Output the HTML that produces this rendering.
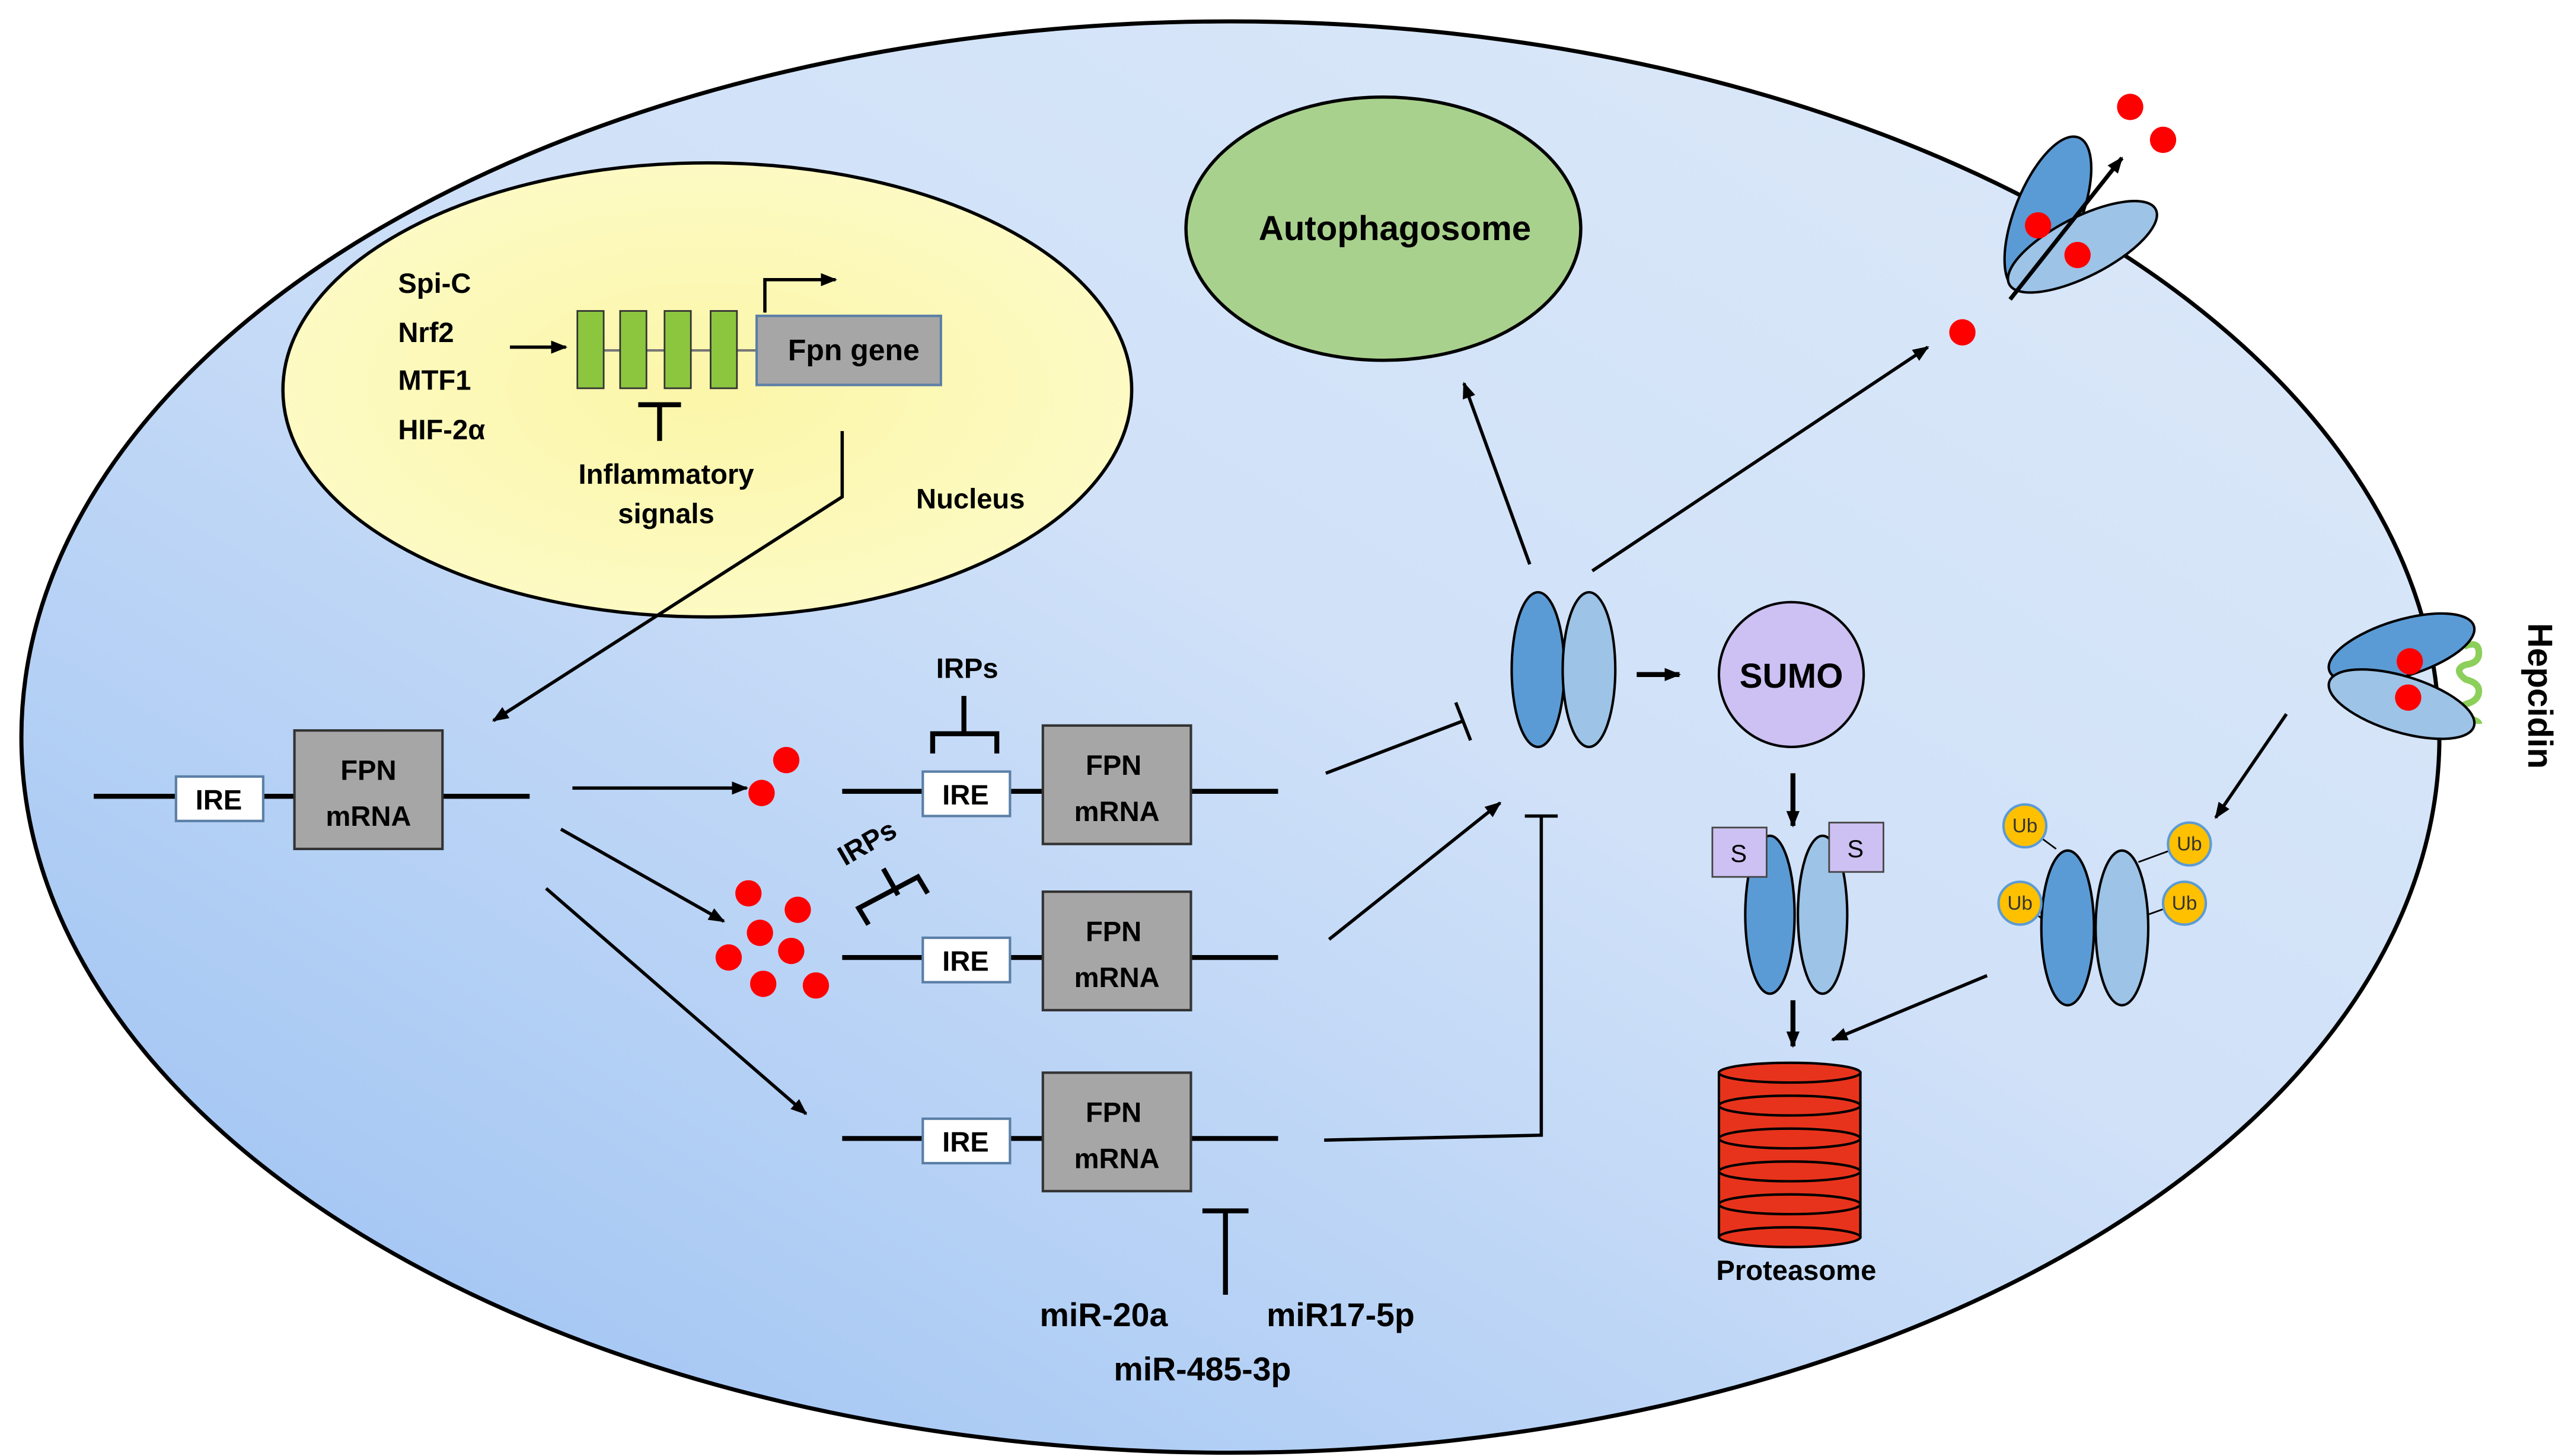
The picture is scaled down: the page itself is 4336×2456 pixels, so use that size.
<!DOCTYPE html>
<html><head><meta charset="utf-8"><style>html,body{margin:0;padding:0;background:#fff}svg{display:block}</style></head>
<body>
<svg xmlns="http://www.w3.org/2000/svg" width="4336" height="2456" viewBox="0 0 1563 885" preserveAspectRatio="none" font-family="Liberation Sans, sans-serif" font-weight="bold">
<defs>
<linearGradient id="cell" x1="0" y1="1" x2="1" y2="0">
<stop offset="0" stop-color="#98bff2"/><stop offset="0.55" stop-color="#d0e1f8"/><stop offset="1" stop-color="#dde9f9"/>
</linearGradient>
<radialGradient id="nuc" cx="0.5" cy="0.5" r="0.6">
<stop offset="0" stop-color="#fbf6a8"/><stop offset="1" stop-color="#fdfbc8"/>
</radialGradient>
<marker id="ah" markerWidth="10" markerHeight="8" refX="9" refY="4" orient="auto" markerUnits="userSpaceOnUse"><path d="M0,0 L10,4 L0,8 Z" fill="#000"/></marker>
</defs>
<ellipse cx="748" cy="448" rx="735" ry="435" fill="url(#cell)" stroke="#000" stroke-width="2.5"/>
<!-- nucleus -->
<ellipse cx="430" cy="237" rx="258" ry="138" fill="url(#nuc)" stroke="#000" stroke-width="2"/>
<g font-size="17" fill="#000">
<text x="242" y="178">Spi-C</text><text x="242" y="208">Nrf2</text><text x="242" y="237">MTF1</text><text x="242" y="267">HIF-2α</text>
<text x="405" y="294" text-anchor="middle">Inflammatory</text><text x="405" y="318" text-anchor="middle">signals</text>
<text x="590" y="309" text-anchor="middle">Nucleus</text>
</g>
<line x1="310" y1="211" x2="344" y2="211" stroke="#000" stroke-width="2" marker-end="url(#ah)"/>
<line x1="352" y1="213" x2="460" y2="213" stroke="#777" stroke-width="1.5"/>
<g fill="#8cc63f" stroke="#333" stroke-width="1"><rect x="351" y="189" width="16" height="47"/><rect x="377" y="189" width="16" height="47"/><rect x="404" y="189" width="16" height="47"/><rect x="432" y="189" width="16" height="47"/></g>
<rect x="460" y="192" width="112" height="42" fill="#a6a6a6" stroke="#5b7fa6" stroke-width="1.5"/>
<text x="519" y="219" text-anchor="middle" font-size="18">Fpn gene</text>
<path d="M465 190 V170 H508" fill="none" stroke="#000" stroke-width="2" marker-end="url(#ah)"/>
<line x1="401" y1="268" x2="401" y2="246" stroke="#000" stroke-width="3"/><line x1="388" y1="246" x2="414" y2="246" stroke="#000" stroke-width="3"/>
<path d="M512 262 V302 L300 438" fill="none" stroke="#000" stroke-width="2" marker-end="url(#ah)"/>
<!-- autophagosome -->
<ellipse cx="841" cy="139" rx="120" ry="80" fill="#a9d18e" stroke="#000" stroke-width="2"/>
<text x="848" y="146" text-anchor="middle" font-size="21">Autophagosome</text>
<!-- mRNA left -->
<line x1="57" y1="484" x2="322" y2="484" stroke="#000" stroke-width="3"/>
<rect x="107" y="472" width="53" height="27" fill="#fff" stroke="#5b7fa6" stroke-width="1.5"/><text x="133" y="492" text-anchor="middle" font-size="17">IRE</text>
<rect x="179" y="444" width="90" height="72" fill="#a6a6a6" stroke="#333" stroke-width="1.5"/>
<text x="224" y="474" text-anchor="middle" font-size="17">FPN</text><text x="224" y="502" text-anchor="middle" font-size="17">mRNA</text>
<!-- three mRNAs -->
<g id="m1">
<line x1="512" y1="481" x2="777" y2="481" stroke="#000" stroke-width="3"/>
<rect x="561" y="469" width="53" height="27" fill="#fff" stroke="#5b7fa6" stroke-width="1.5"/><text x="587" y="489" text-anchor="middle" font-size="17">IRE</text>
<rect x="634" y="441" width="90" height="72" fill="#a6a6a6" stroke="#333" stroke-width="1.5"/>
<text x="677" y="471" text-anchor="middle" font-size="17">FPN</text><text x="679" y="499" text-anchor="middle" font-size="17">mRNA</text>
</g>
<use href="#m1" y="101"/>
<use href="#m1" y="211"/>
<!-- IRPs -->
<text x="588" y="412" text-anchor="middle" font-size="17">IRPs</text>
<path d="M586 423 V446 M567 458 V446 H606 V458" fill="none" stroke="#000" stroke-width="3"/>
<text x="527" y="518" text-anchor="middle" font-size="17" transform="rotate(-30 527 512)">IRPs</text>
<path d="M537 528 L546 544 M528 562 L522 552 L558 533 L564 543" fill="none" stroke="#000" stroke-width="3"/>
<!-- arrows from left mRNA -->
<line x1="348" y1="479" x2="454" y2="479" stroke="#000" stroke-width="2" marker-end="url(#ah)"/>
<line x1="341" y1="504" x2="440" y2="560" stroke="#000" stroke-width="2" marker-end="url(#ah)"/>
<line x1="332" y1="540" x2="490" y2="677" stroke="#000" stroke-width="2" marker-end="url(#ah)"/>
<g fill="#f00">
<circle cx="478" cy="462" r="8"/><circle cx="463" cy="482" r="8"/>
<circle cx="455" cy="543" r="8"/><circle cx="485" cy="553" r="8"/><circle cx="462" cy="567" r="8"/><circle cx="481" cy="578" r="8"/><circle cx="443" cy="582" r="8"/><circle cx="464" cy="598" r="8"/><circle cx="496" cy="599" r="8"/>
<circle cx="1193" cy="202" r="8"/><circle cx="1295" cy="65" r="8"/><circle cx="1315" cy="85" r="8"/>
</g>
<!-- inhibitions to FPN -->
<line x1="806" y1="470" x2="890" y2="438" stroke="#000" stroke-width="2"/><line x1="885" y1="427" x2="894" y2="450" stroke="#000" stroke-width="2"/>
<line x1="808" y1="571" x2="912" y2="488" stroke="#000" stroke-width="2" marker-end="url(#ah)"/>
<path d="M805 693 L937 690 V496" fill="none" stroke="#000" stroke-width="2"/><line x1="927" y1="496" x2="947" y2="496" stroke="#000" stroke-width="2"/>
<line x1="745" y1="787" x2="745" y2="736" stroke="#000" stroke-width="3"/><line x1="731" y1="736" x2="759" y2="736" stroke="#000" stroke-width="3"/>
<g font-size="20"><text x="671" y="806" text-anchor="middle">miR-20a</text><text x="815" y="806" text-anchor="middle">miR17-5p</text><text x="731" y="839" text-anchor="middle">miR-485-3p</text></g>
<!-- FPN central -->
<ellipse cx="935" cy="407" rx="16" ry="47" fill="#5b9bd5" stroke="#000" stroke-width="1.5"/>
<ellipse cx="966" cy="407" rx="16" ry="47" fill="#9dc3e6" stroke="#000" stroke-width="1.5"/>
<line x1="930" y1="343" x2="890" y2="233" stroke="#000" stroke-width="2" marker-end="url(#ah)"/>
<line x1="968" y1="347" x2="1172" y2="211" stroke="#000" stroke-width="2" marker-end="url(#ah)"/>
<line x1="995" y1="410" x2="1021" y2="410" stroke="#000" stroke-width="3" marker-end="url(#ah)"/>
<circle cx="1089" cy="410" r="44" fill="#ccc1f2" stroke="#000" stroke-width="1.5"/>
<text x="1089" y="418" text-anchor="middle" font-size="21">SUMO</text>
<line x1="1090" y1="470" x2="1090" y2="502" stroke="#000" stroke-width="3" marker-end="url(#ah)"/>
<ellipse cx="1076" cy="556" rx="15" ry="48" fill="#5b9bd5" stroke="#000" stroke-width="1.5"/>
<ellipse cx="1108" cy="556" rx="15" ry="48" fill="#9dc3e6" stroke="#000" stroke-width="1.5"/>
<rect x="1041" y="503" width="33" height="30" fill="#ccc1f2" stroke="#444"/><text x="1057" y="524" text-anchor="middle" font-size="15" font-weight="normal">S</text>
<rect x="1112" y="500" width="33" height="30" fill="#ccc1f2" stroke="#444"/><text x="1128" y="521" text-anchor="middle" font-size="15" font-weight="normal">S</text>
<line x1="1090" y1="608" x2="1090" y2="636" stroke="#000" stroke-width="3" marker-end="url(#ah)"/>
<line x1="1208" y1="593" x2="1114" y2="632" stroke="#000" stroke-width="2" marker-end="url(#ah)"/>
<!-- proteasome -->
<g stroke="#000" stroke-width="1.5" fill="#e8331c">
<rect x="1045" y="652" width="86" height="100"/>
<ellipse cx="1088" cy="752" rx="43" ry="6"/>
<ellipse cx="1088" cy="732" rx="43" ry="6"/><ellipse cx="1088" cy="712" rx="43" ry="6"/><ellipse cx="1088" cy="692" rx="43" ry="6"/><ellipse cx="1088" cy="672" rx="43" ry="6"/><ellipse cx="1088" cy="652" rx="43" ry="6"/>
</g>
<text x="1092" y="778" text-anchor="middle" font-size="17">Proteasome</text>
<!-- Ub FPN -->
<g stroke="#000" stroke-width="1"><line x1="1231" y1="502" x2="1250" y2="516"/><line x1="1228" y1="548" x2="1246" y2="562"/><line x1="1330" y1="513" x2="1300" y2="524"/><line x1="1328" y1="548" x2="1300" y2="558"/></g>
<ellipse cx="1257" cy="564" rx="16" ry="47" fill="#5b9bd5" stroke="#000" stroke-width="1.5"/>
<ellipse cx="1290" cy="564" rx="16" ry="47" fill="#9dc3e6" stroke="#000" stroke-width="1.5"/>
<g fill="#ffc000" stroke="#5b9bd5" stroke-width="1.5"><circle cx="1231" cy="502" r="13"/><circle cx="1228" cy="549" r="13"/><circle cx="1331" cy="513" r="13"/><circle cx="1328" cy="549" r="13"/></g>
<g font-size="12" font-weight="normal" text-anchor="middle" fill="#333"><text x="1231" y="506">Ub</text><text x="1228" y="553">Ub</text><text x="1331" y="517">Ub</text><text x="1328" y="553">Ub</text></g>
<line x1="1390" y1="434" x2="1347" y2="497" stroke="#000" stroke-width="2" marker-end="url(#ah)"/>
<!-- top transporter -->
<ellipse cx="1245" cy="130" rx="20" ry="50" transform="rotate(22 1245 130)" fill="#5b9bd5" stroke="#000" stroke-width="1.5"/>
<ellipse cx="1266" cy="150" rx="50" ry="18" transform="rotate(-27 1266 150)" fill="#9dc3e6" stroke="#000" stroke-width="1.5"/>
<circle cx="1239" cy="137" r="8" fill="#f00"/><circle cx="1263" cy="155" r="8" fill="#f00"/>
<line x1="1222" y1="182" x2="1290" y2="96" stroke="#000" stroke-width="2.5" marker-end="url(#ah)"/>
<!-- hepcidin transporter -->
<path d="M1498 393 q9 -4 9 4 q0 6 -8 7 q-8 3 0 9 q8 2 8 7 q0 6 -8 8 q-8 3 0 8 q8 2 8 4" fill="none" stroke="#8ccf5a" stroke-width="4"/>
<ellipse cx="1460" cy="394" rx="46" ry="17" transform="rotate(-17 1460 394)" fill="#5b9bd5" stroke="#000" stroke-width="1.5"/>
<ellipse cx="1460" cy="428" rx="46" ry="17" transform="rotate(17 1460 428)" fill="#9dc3e6" stroke="#000" stroke-width="1.5"/>
<circle cx="1465" cy="402" r="8" fill="#f00"/><circle cx="1464" cy="424" r="8" fill="#f00"/>
<text x="1537" y="423" text-anchor="middle" font-size="21" transform="rotate(90 1537 423)">Hepcidin</text>
</svg>
</body></html>
